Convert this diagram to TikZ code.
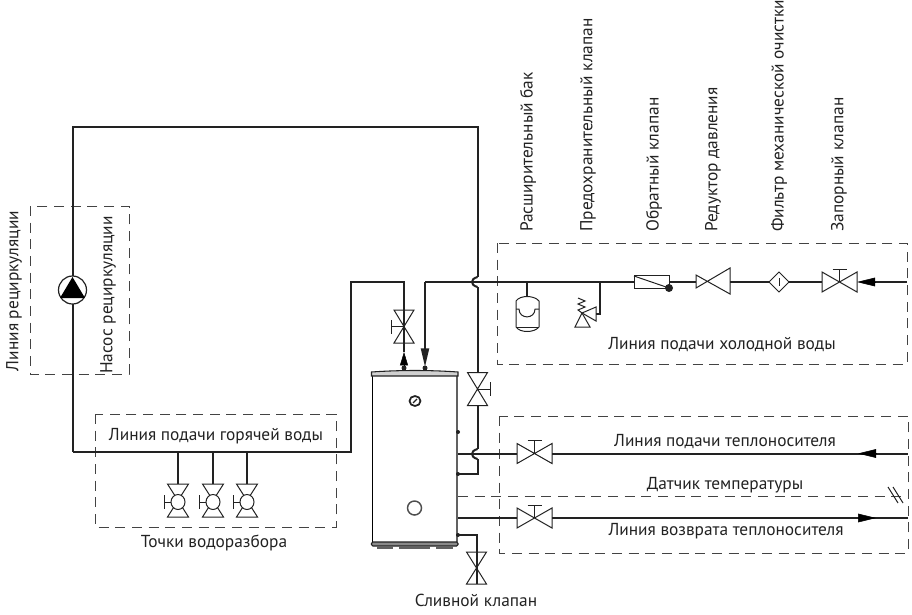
\documentclass[tikz,border=0pt]{standalone}
\usepackage{fontspec}
\setmainfont{PT Sans}
\usetikzlibrary{arrows.meta}

\definecolor{ink}{HTML}{222222}
\definecolor{capgray}{HTML}{8A8A8A}

\tikzset{
    pipe/.style={line width=1.5pt, draw=ink},
    thin pipe/.style={line width=0.75pt, draw=ink},
    box/.style={line width=0.7pt, draw=ink!85, dash pattern=on 7.5pt off 5pt},
    lbl/.style={text=ink, font=\fontsize{13pt}{15pt}\selectfont, inner sep=0pt},
    vlbl/.style={lbl, rotate=90, anchor=west},
    tip/.style={-{Triangle[length=14pt, width=6pt]}},
    tip short/.style={-{Triangle[length=10pt, width=6pt]}},
    tip long/.style={-{Triangle[length=13.5pt, width=6.5pt]}},
    pics/bowtie/.style={code={
        \draw [thin pipe, line join=miter] (-#1,-10) -- (#1,10) -- (#1,-10) -- (-#1,10) -- cycle;
        \coordinate (-in) at (-#1,0);
        \coordinate (-out) at (#1,0);
    }},
    pics/gate/.style={code={
        \draw [thin pipe, line join=miter] (-#1,-10) -- (#1,10) -- (#1,-10) -- (-#1,10) -- cycle;
        \draw [thin pipe] (0,0) -- (0,-13);
        \draw [thin pipe] (-7,-13) -- (7,-13);
        \coordinate (-in) at (-#1,0);
        \coordinate (-out) at (#1,0);
    }},
    pics/tap/.style={code={
        \draw [thin pipe] (-10.5,-18) -- (10.5,-18) -- (-10.5,15) -- (10.5,15) -- cycle;
        \draw [thin pipe, fill=white] (0,0) ellipse (7 and 7.5);
        \draw [thin pipe] (-7,0) -- (-14,0);
        \draw [thin pipe] (-14,-7) -- (-14,7);
        \coordinate (-in) at (0,-18);
    }},
}

\begin{document}
\begin{tikzpicture}[x=0.75pt, y=-0.75pt]
    \useasboundingbox (0,0) rectangle (912,614);

    % dashed boxes
    \draw [box] (30,206) rectangle (129,374);
    \draw [box] (95,414) rectangle (336,527);
    \draw [box] (497,243) rectangle (907,364);
    \draw [box] (499,416) rectangle (908,553);

    % tank
    \draw [line width=0.9pt, draw=black] (372.5,376) -- (372.5,542);
    \draw [line width=0.9pt, draw=capgray!70!black] (457,376) -- (457,542);
    \draw [line width=0.8pt, draw=ink, fill=capgray!40] (371.5,372) .. controls (400,370) and (430,370) .. (458,372) -- (458,376) -- (371.5,376) -- cycle;
    \draw [line width=0.8pt, draw=ink, fill=capgray, rounded corners=1pt] (371.5,542) rectangle (458,546);
    \fill [capgray!70!black] (377,546) rectangle (393,549);
    \fill [capgray!70!black] (399,546) rectangle (430,549);
    \fill [capgray!70!black] (436,546) rectangle (453,549);
    \draw [line width=1.3pt, draw=ink] (415,401) ellipse (5.5 and 5);
    \draw [line width=0.9pt, draw=ink] (413,403) -- (417,399);
    \draw [line width=1.1pt, draw=ink!80] (414.5,508) circle (7);
    \fill [ink] (458,432) circle (2);
    \fill [ink] (458,474) circle (2);
    \fill [ink] (458,535) circle (2);
    \fill [ink] (404,368) circle (2.5);
    \fill [ink] (425,368) circle (2.5);

    % fittings
    \draw pic (vhot) at (404,326.5) [rotate=90] {gate=16.5};
    \draw pic (vret) at (477.5,389) [rotate=-90] {gate=16.5};
    \draw pic (vdrain) at (476.5,568) [rotate=90] {bowtie=16};
    \draw pic (vheat) at (534.5,453.5) {gate=17.5};
    \draw pic (vback) at (534.5,518) {gate=17.5};
    \draw pic (vcold) at (839.5,282) {gate=17.5};
    \draw pic (t1) at (178,502) {tap};
    \draw pic (t2) at (213,502) {tap};
    \draw pic (t3) at (247,502) {tap};

    % recirculation and hot water
    \coordinate (tl) at (73,127);
    \coordinate (tr) at (477.5,127);
    \coordinate (bl) at (73,451.5);
    \coordinate (br) at (351,451.5);
    \coordinate (hu) at (351,282);
    \coordinate (hv) at (404,282);
    \coordinate (ha) at (404,352);
    \coordinate (hb) at (404,365);
    \coordinate (ja) at (477.5,277);
    \coordinate (jb) at (477.5,287);
    \draw [pipe] (jb) to (vret-in);
    \draw [pipe, line join=miter] (bl) -- (tl) -- (tr) -- (ja);
    \draw [pipe] (ja) .. controls (470,279) and (470,285) .. (jb);
    \draw [pipe] (bl) -- (br) -- (hu) -- (hv) -- (vhot-in);
    \draw [pipe] (vhot-out) to (ha);
    \draw [tip short] (hb) to (ha);
    \draw [pipe] (t1-in) to (178,451.5);
    \draw [pipe] (t2-in) to (213,451.5);
    \draw [pipe] (t3-in) to (247,451.5);

    % pump
    \coordinate (pc) at (72.5,290);
    \draw [line width=0.9pt, draw=ink, fill=white] (pc) circle (14);
    \fill [black] (72.5,277) -- (85,298) -- (60,298) -- cycle;

    % cold water
    \coordinate (ca) at (425,282);
    \coordinate (cb) at (425,367);
    \coordinate (ce) at (527,282);
    \coordinate (cs) at (600,282);
    \coordinate (cc) at (634,282);
    \coordinate (cd) at (669,282);
    \coordinate (rl) at (696,282);
    \coordinate (rr) at (730,282);
    \coordinate (fl) at (769,282);
    \coordinate (fr) at (789,282);
    \coordinate (cin) at (907,282);
    \draw [pipe, tip, line join=miter] (ca) -- (cb);
    \draw [pipe] (ca) to (cc);
    \draw [pipe] (cd) to (rl);
    \draw [pipe] (rr) to (fl);
    \draw [pipe] (fr) to (vcold-in);
    \draw [pipe] (cin) to (875,282);
    \draw [tip long] (875,282) to (vcold-out);

    % expansion tank
    \draw [pipe] (ce) to (527,296);
    \draw [thin pipe] (516,301) .. controls (520,295) and (534,295) .. (539,301) -- (539,327) .. controls (534,333) and (520,333) .. (516,327) -- cycle;
    \draw [thin pipe] (516,327.5) -- (539,327.5);
    \draw [thin pipe] (516,309) -- (519,309) .. controls (519,319.5) and (535,319.5) .. (535,309) -- (539,309);

    % safety valve
    \draw [pipe, line join=miter] (cs) -- (600,314) -- (596,314);
    \draw [thin pipe] (582,313) -- (596,307) -- (596,321) -- cycle;
    \draw [thin pipe] (582,313) -- (590,327) -- (575,327) -- cycle;
    \draw [thin pipe] (582,313) -- (578,310) -- (585,307) -- (578,304) -- (585,301) -- (578,298);

    % check valve
    \draw [thin pipe] (634,275) rectangle (669,288);
    \draw [thin pipe] (634,276) -- (669,288);
    \fill [ink] (669,288) circle (4);

    % pressure reducer
    \draw [thin pipe, line join=miter] (696,275) -- (696,288) -- (730,268) -- (730,294) -- cycle;

    % filter
    \draw [thin pipe] (769,282) -- (779,272) -- (789,282) -- (779,292) -- cycle;
    \draw [thin pipe] (779,278) -- (779,286);

    % heating lines
    \coordinate (hs) at (458,453.5);
    \coordinate (hj) at (908,453.5);
    \coordinate (ht) at (858,453.5);
    \coordinate (ra) at (458,518);
    \coordinate (rt) at (876,518);
    \coordinate (rj) at (908,518);
    \coordinate (ka) at (477.5,449);
    \coordinate (kb) at (477.5,459);
    \draw [pipe] (hs) to (vheat-in);
    \draw [pipe] (vheat-out) to (hj);
    \draw [tip long] (876,453.5) to (ht);
    \draw [pipe] (ra) to (vback-in);
    \draw [pipe] (vback-out) to (rj);
    \draw [tip long] (858,518) to (rt);
    \draw [pipe] (vret-out) to (ka);
    \draw [pipe] (ka) .. controls (470,451) and (470,457) .. (kb);
    \draw [pipe, line join=miter] (kb) -- (477.5,474) -- (458,474);
    \draw [pipe, line join=miter] (458,535) -- (476.5,535) -- (vdrain-in);

    % sensor
    \draw [box] (458,496) -- (908,496);
    \draw [thin pipe] (888,487) -- (898,503);
    \draw [thin pipe] (893,487) -- (903,503);

    % labels
    \node [lbl, rotate=90] (a) at (14,291) {Линия рециркуляции};
    \node [lbl, rotate=90] (b) at (108,295) {Насос рециркуляции};
    \node [vlbl] (c) at (528,232) {Расширительный бак};
    \node [vlbl] (d) at (588,232) {Предохранительный клапан};
    \node [vlbl] (e) at (654,232) {Обратный клапан};
    \node [vlbl] (f) at (713,232) {Редуктор давления};
    \node [vlbl] (g) at (779,232) {Фильтр механической очистки};
    \node [vlbl] (h) at (839,232) {Запорный клапан};
    \node [lbl] (i) at (722,345) {Линия подачи холодной воды};
    \node [lbl] (j) at (725,442) {Линия подачи теплоносителя};
    \node [lbl] (k) at (725,485) {Датчик температуры};
    \node [lbl] (l) at (726,531) {Линия возврата теплоносителя};
    \node [lbl] (m) at (216,436) {Линия подачи горячей воды};
    \node [lbl] (n) at (214,543) {Точки водоразбора};
    \node [lbl] (o) at (476,600) {Сливной клапан};
\end{tikzpicture}
\end{document}
